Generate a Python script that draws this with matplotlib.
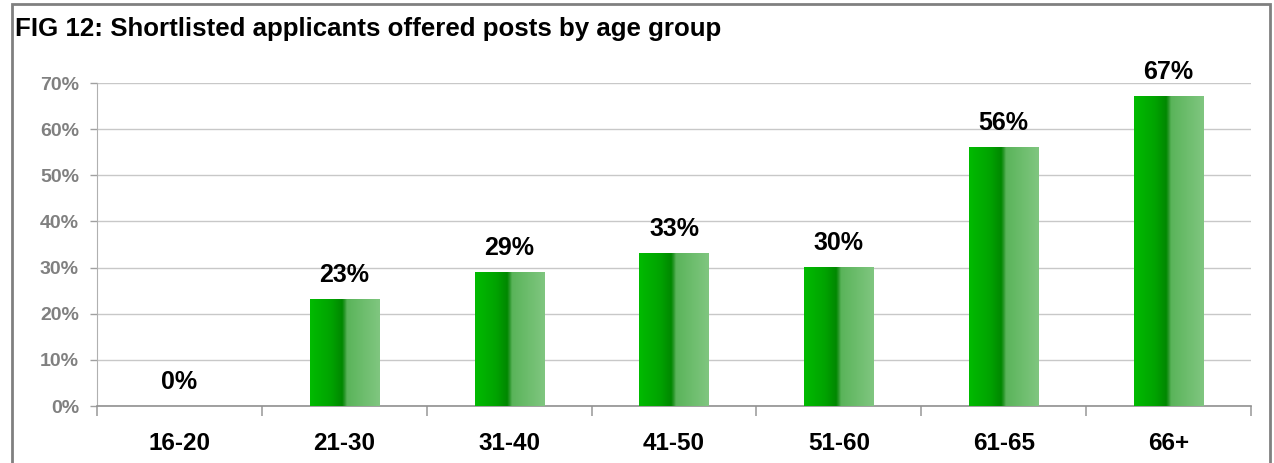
import numpy as np
import matplotlib.pyplot as plt
import matplotlib.patches as patches
from matplotlib.colors import LinearSegmentedColormap

plt.rcParams['font.family'] = ['Liberation Sans', 'DejaVu Sans']
plt.rcParams['font.weight'] = 'bold'

age_groups = ['16-20', '21-30', '31-40', '41-50', '51-60', '61-65', '66+']
offered_pct = [0, 23, 29, 33, 30, 56, 67]
y_ticks = [0, 10, 20, 30, 40, 50, 60, 70]

fig = plt.figure(figsize=(12.74, 4.63), dpi=100)
ax = fig.add_axes([0.0761, 0.1231, 0.9059, 0.6976])

# shaded green cylinder look: bright -> dark, then a lighter band on the right
bar_cmap = LinearSegmentedColormap.from_list('bar_shade', [
    (0.00, '#00bb00'),
    (0.30, '#00a300'),
    (0.46, '#008800'),
    (0.50, '#2f9a2f'),
    (0.53, '#5ab45a'),
    (1.00, '#80c680'),
])
shade = np.linspace(0, 1, 256).reshape(1, -1)

x = np.arange(len(age_groups))
bar_w = 0.42
bars = ax.bar(x, offered_pct, width=bar_w, color='none', zorder=3)
for rect, val in zip(bars, offered_pct):
    x0 = rect.get_x()
    if val > 0:
        ax.imshow(shade, cmap=bar_cmap, aspect='auto', zorder=3,
                  extent=[x0, x0 + rect.get_width(), 0, val], interpolation='bilinear')
    ax.annotate(f'{val}%', (x0 + rect.get_width() / 2, val), xytext=(0, 9),
                textcoords='offset points', ha='center', va='bottom',
                fontsize=18, fontweight='bold', color='black')

ax.set_xlim(-0.5, len(age_groups) - 0.5)
ax.set_ylim(0, 70)

ax.set_yticks(y_ticks)
ax.set_yticklabels([f'{t}%' for t in y_ticks])
ax.tick_params(axis='y', length=5, width=1, color='#a0a0a0', pad=8,
               labelsize=14, labelcolor='#808080')

ax.set_xticks(x)
ax.set_xticklabels(age_groups)
ax.set_xticks(np.arange(-0.5, len(age_groups)), minor=True)
ax.tick_params(axis='x', which='major', length=0, pad=19, labelsize=17.5, labelcolor='black')
ax.tick_params(axis='x', which='minor', length=7, width=1.2, color='#a0a0a0', direction='out')

ax.grid(axis='y', color='#c8c8c8', linewidth=1, zorder=0)
ax.set_axisbelow(True)
for side in ['top', 'right']:
    ax.spines[side].set_visible(False)
ax.spines['left'].set_color('#b0b0b0')
ax.spines['bottom'].set_color('#909090')
ax.spines['bottom'].set_linewidth(1.2)

fig.text(15 / 1274, 1 - 29 / 463, 'FIG 12: Shortlisted applicants offered posts by age group',
         fontsize=18.6, fontweight='bold', color='black', va='center', ha='left')

# outer frame, open at the bottom
frame = patches.Rectangle((12 / 1274, -0.05), (1270 - 12) / 1274, 1 - 4 / 463 + 0.05,
                          transform=fig.transFigure, fill=False,
                          edgecolor='#808080', linewidth=2)
fig.patches.append(frame)

fig.savefig('out.png', dpi=100)
